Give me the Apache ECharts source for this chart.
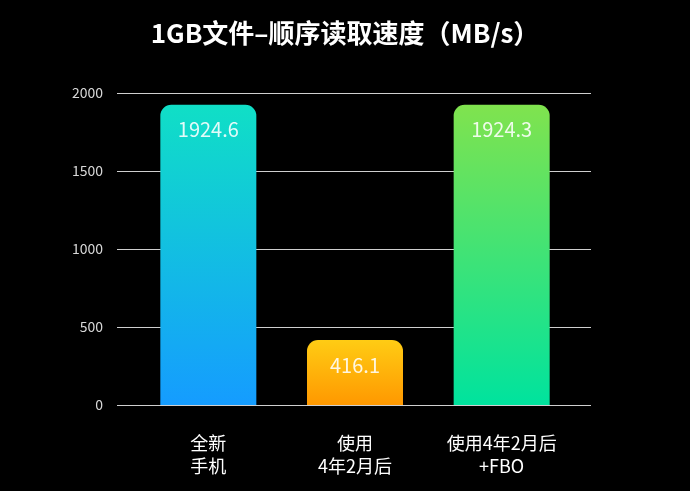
<!DOCTYPE html>
<html><head><meta charset="utf-8">
<script src="https://cdn.jsdelivr.net/npm/echarts@6/dist/echarts.min.js"></script>
<style>html,body{margin:0;padding:0;background:#000;}#c{width:690px;height:491px;}</style>
</head><body><div id="c"></div>
<script>
const categories = ['全新\n手机', '使用\n4年2月后', '使用4年2月后\n+FBO'];
const values = [1924.6, 416.1, 1924.3];
const yTicks = [0, 500, 1000, 1500, 2000];
const gradients = [
  ['#10dfc6', '#159cff'],
  ['#ffcc14', '#ff9800'],
  ['#80e34e', '#00e39e']
];
const font = '"Noto Sans CJK SC", "Noto Sans", sans-serif';
const chart = echarts.init(document.getElementById('c'));
chart.setOption({
  backgroundColor: '#000',
  title: {
    text: '1GB文件–顺序读取速度（MB/s）',
    left: 'center', top: 15,
    textStyle: { color: '#fff', fontSize: 26, fontWeight: 'bold', fontFamily: font }
  },
  grid: [
    { left: 117, right: 99, top: 93, bottom: 86 },
    { left: 135, right: 115, top: 93, bottom: 86 }
  ],
  yAxis: [
    { gridIndex: 0, type: 'value', min: yTicks[0], max: yTicks[yTicks.length-1], interval: 500,
      axisLine: { show: false }, axisTick: { show: false },
      axisLabel: { color: '#d8d8d8', fontSize: 14, margin: 14, fontFamily: font, formatter: v => String(v) },
      splitLine: { lineStyle: { color: '#cfcfcf', width: 1 } } },
    { gridIndex: 1, type: 'value', min: 0, max: 2000, interval: 500, show: false, splitLine: { show: false } }
  ],
  xAxis: [
    { gridIndex: 0, type: 'value', show: false, min: 0, max: 1, splitLine: { show: false } },
    { gridIndex: 1, type: 'category', data: categories,
      axisLine: { show: false }, axisTick: { show: false },
      axisLabel: { color: '#fff', fontSize: 18, lineHeight: 23, margin: 27, fontFamily: font } }
  ],
  series: [{
    type: 'bar', xAxisIndex: 1, yAxisIndex: 1, barWidth: 96,
    data: values.map((v, i) => ({
      value: v,
      itemStyle: {
        borderRadius: [11, 11, 0, 0],
        color: new echarts.graphic.LinearGradient(0, 0, 0, 1, [
          { offset: 0, color: gradients[i][0] }, { offset: 1, color: gradients[i][1] }
        ])
      }
    })),
    label: { show: true, position: 'insideTop', distance: 15, color: 'rgba(255,255,255,0.88)',
      fontSize: 20, fontFamily: font }
  }]
});
</script></body></html>
